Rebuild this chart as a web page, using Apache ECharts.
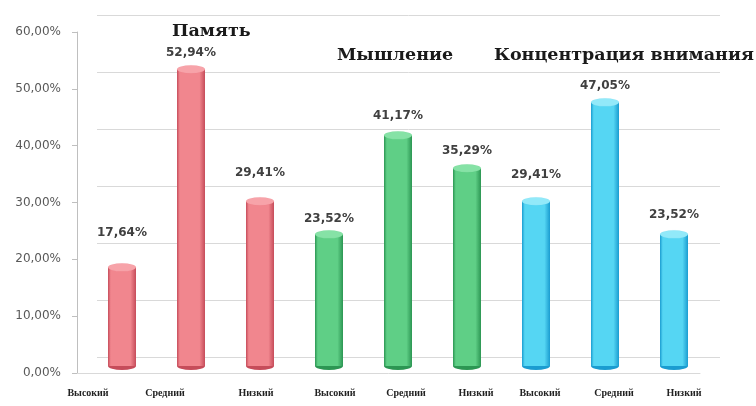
<!DOCTYPE html>
<html>
<head>
<meta charset="utf-8">
<script src="https://cdn.jsdelivr.net/npm/echarts@6/dist/echarts.min.js"></script>
<style>
  html, body { margin: 0; padding: 0; background: #fff; }
  #chart { width: 756px; height: 406px; }
</style>
</head>
<body>
<div id="chart"></div>
<script>
// данные диаграммы
var categories = ['Высокий', 'Средний', 'Низкий', 'Высокий', 'Средний', 'Низкий', 'Высокий', 'Средний', 'Низкий'];
var values = [17.64, 52.94, 29.41, 23.52, 41.17, 35.29, 29.41, 47.05, 23.52];
var groupOf = [0, 0, 0, 1, 1, 1, 2, 2, 2];
var groupNames = ['Память', 'Мышление', 'Концентрация внимания'];
var yTicks = [0, 10, 20, 30, 40, 50, 60];

// оформление
var bodyColor = ['#f1868e', '#5fcf86', '#55d6f3'];
var edgeColor = ['#c64c5a', '#2c9653', '#1a9cd0'];
var capColor = ['#f7a3a9', '#86e2a6', '#92e9f9'];
var labelGap = [28, 10, 22, 9, 13, 11, 20, 10, 13];
var labelShift = [-34, -26, -4, 6, 8, 9, 4, 9, 10];

var chart = echarts.init(document.getElementById('chart'));

function fmt(v) {
  return v.toFixed(2).replace('.', ',') + '%';
}

function cylinder(i) {
  var g = groupOf[i];
  return new echarts.graphic.LinearGradient(0, 0, 1, 0, [
    { offset: 0, color: edgeColor[g] },
    { offset: 0.1, color: bodyColor[g] },
    { offset: 0.8, color: bodyColor[g] },
    { offset: 1, color: edgeColor[g] }
  ]);
}

// сдвиг подписей категорий через rich
var rich = {};
labelShift.forEach(function (s, i) {
  rich['s' + i] = {
    fontFamily: 'Liberation Serif',
    fontWeight: 'bold',
    fontSize: 10,
    color: '#222',
    padding: [0, s < 0 ? -2 * s : 0, 0, s > 0 ? 2 * s : 0]
  };
});

var option = {
  animation: false,
  backgroundColor: '#ffffff',
  title: [
    { text: groupNames[0], left: 167, top: 17 },
    { text: groupNames[1], left: 332, top: 41 },
    { text: groupNames[2], left: 489, top: 41 }
  ].map(function (t) {
    t.textStyle = { fontFamily: 'DejaVu Serif', fontWeight: 'bold', fontSize: 17.5, color: '#1a1a1a' };
    return t;
  }),
  grid: [
    // подписи оси Y
    { left: 77, right: 56, top: 32, bottom: 33 },
    // задняя стенка
    { left: 97, right: 36, top: 15, bottom: 49 },
    // столбцы
    { left: 87.5, right: 47.5, top: 29.4, bottom: 40 }
  ],
  xAxis: [
    {
      gridIndex: 0, type: 'category', data: categories,
      axisLine: { show: true, lineStyle: { color: '#d9d9d9' } },
      axisTick: { show: false }, axisLabel: { show: false }
    },
    {
      gridIndex: 1, type: 'category', data: categories, show: false
    },
    {
      gridIndex: 2, type: 'category', data: categories,
      axisLine: { show: false }, axisTick: { show: false },
      axisLabel: {
        margin: 22,
        interval: 0,
        formatter: function (v, i) { return '{s' + i + '|' + v + '}'; },
        rich: rich
      }
    }
  ],
  yAxis: [
    {
      gridIndex: 0, type: 'value', min: yTicks[0], max: yTicks[yTicks.length - 1], interval: 10,
      axisLine: { show: true, lineStyle: { color: '#bfbfbf' } },
      axisTick: { show: true, length: 5, lineStyle: { color: '#bfbfbf' } },
      splitLine: { show: false },
      axisLabel: {
        margin: 16,
        fontFamily: 'DejaVu Sans', fontSize: 12, color: '#595959',
        formatter: function (v) { return fmt(v); }
      }
    },
    {
      gridIndex: 1, type: 'value', min: 0, max: 60, interval: 10,
      axisLine: { show: false }, axisTick: { show: false }, axisLabel: { show: false },
      splitLine: { show: true, lineStyle: { color: '#d9d9d9', width: 1 } }
    },
    {
      gridIndex: 2, type: 'value', min: 0, max: 60, interval: 10,
      show: false, splitLine: { show: false }
    }
  ],
  series: [
    {
      name: 'bottom',
      type: 'pictorialBar',
      xAxisIndex: 2, yAxisIndex: 2,
      symbol: 'circle',
      symbolSize: [28, 8],
      symbolPosition: 'start',
      symbolOffset: [0, '50%'],
      z: 1,
      data: values.map(function (v, i) {
        return { value: v, itemStyle: { color: edgeColor[groupOf[i]] } };
      })
    },
    {
      name: 'bars',
      type: 'bar',
      xAxisIndex: 2, yAxisIndex: 2,
      barWidth: 28,
      z: 2,
      data: values.map(function (v, i) {
        return {
          value: v,
          itemStyle: { color: cylinder(i) },
          label: { distance: labelGap[i] }
        };
      }),
      label: {
        show: true,
        position: 'top',
        fontFamily: 'DejaVu Sans', fontWeight: 'bold', fontSize: 12, color: '#404040',
        formatter: function (p) { return fmt(p.value); }
      }
    },
    {
      name: 'top',
      type: 'pictorialBar',
      xAxisIndex: 2, yAxisIndex: 2,
      symbol: 'circle',
      symbolSize: [28, 8],
      symbolPosition: 'end',
      symbolOffset: [0, '-50%'],
      z: 3,
      data: values.map(function (v, i) {
        return {
          value: v,
          itemStyle: { color: capColor[groupOf[i]], borderColor: edgeColor[groupOf[i]], borderWidth: 1 }
        };
      })
    }
  ]
};

chart.setOption(option);
</script>
</body>
</html>
